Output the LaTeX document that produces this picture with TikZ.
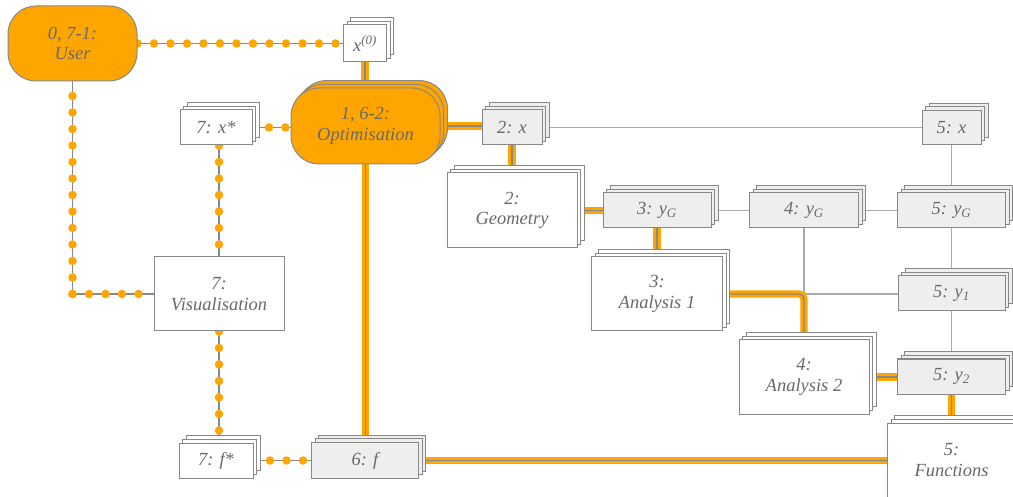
\documentclass[tikz,border=0pt]{standalone}
\usepackage{fontspec}
\setmainfont{Liberation Serif}
\usetikzlibrary{shadows,backgrounds}
\definecolor{procorange}{RGB}{255,165,0}
\definecolor{edgegray}{RGB}{136,136,136}
\definecolor{datagray}{RGB}{170,170,170}
\definecolor{textgray}{RGB}{105,105,105}
\definecolor{varfill}{RGB}{238,238,238}
\tikzset{
  base/.style={draw=edgegray, line width=1pt, inner sep=0pt, align=center, text=textgray,
    font=\fontsize{18.5}{20.5}\selectfont\itshape},
  stack/.style={
    copy shadow={shadow xshift=7.4pt, shadow yshift=7.4pt, fill=#1, draw=edgegray, line width=1pt},
    copy shadow={shadow xshift=3.7pt, shadow yshift=3.7pt, fill=#1, draw=edgegray, line width=1pt},
    fill=#1},
  driver/.style={base, fill=procorange, rounded corners=28pt},
  tool/.style={base, fill=white},
  tools/.style={base, stack=white},
  vars/.style={base, stack=varfill},
  varw/.style={base, stack=white},
  optim/.style={driver, stack=procorange},
  datalink/.style={draw=datagray, line width=1.3pt},
  proclink/.style={draw=procorange, double=edgegray, double distance=1.4pt, line width=3pt},
  userlink/.style={draw=procorange, line width=8.5pt, line cap=round, dash pattern=on 0pt off 16.5pt,
    preaction={draw=edgegray, solid, line cap=butt, line width=1.2pt}},
}
\begin{document}
\begin{tikzpicture}[x=1pt,y=-1pt]
\useasboundingbox (0,0) rectangle (1013,497);

% user, optimiser and post-processing
\node[driver, minimum width=129pt, minimum height=75pt] (user) at (72.5,43.5) {0, 7-1:\\User};
\node[varw, minimum width=43pt, minimum height=37pt] (x0) at (365,43.5) {x\textsuperscript{(0)}};
\node[optim, minimum width=149pt, minimum height=76pt] (opt) at (365.5,126) {1, 6-2:\\Optimisation};
\node[varw, minimum width=72pt, minimum height=35pt] (xstar) at (216,127.5) {7: x*};
\node[tool, minimum width=130pt, minimum height=74pt] (vis) at (219,294) {7:\\Visualisation};
\node[varw, minimum width=74pt, minimum height=35pt] (fstar) at (216,460.5) {7: f*};
\node[vars, minimum width=107pt, minimum height=36pt] (f6) at (365,460.5) {6: f};

% geometry and analyses
\node[vars, minimum width=60pt, minimum height=35pt] (x2) at (512,127.5) {2: x};
\node[tools, minimum width=130pt, minimum height=75pt] (geom) at (512,210.5) {2:\\Geometry};
\node[vars, minimum width=108pt, minimum height=35pt] (y3) at (657,210.5) {3: y\textsubscript{G}};
\node[vars, minimum width=109pt, minimum height=35pt] (y4) at (804,210.5) {4: y\textsubscript{G}};
\node[vars, minimum width=108pt, minimum height=35pt] (y5G) at (951.5,210.5) {5: y\textsubscript{G}};
\node[vars, minimum width=59pt, minimum height=34pt] (x5) at (951.5,127.5) {5: x};
\node[tools, minimum width=131pt, minimum height=74pt] (an1) at (657,294) {3:\\Analysis 1};
\node[tools, minimum width=130pt, minimum height=74pt] (an2) at (804,377) {4:\\Analysis 2};
\node[vars, minimum width=107pt, minimum height=35pt] (y51) at (951.5,293.5) {5: y\textsubscript{1}};
\node[vars, minimum width=108pt, minimum height=35pt] (y52) at (951.5,376.5) {5: y\textsubscript{2}};
\node[tools, minimum width=128pt, minimum height=74pt] (func) at (951.5,460) {5:\\Functions};

\coordinate (uc) at (user.south |- vis.west);

\begin{scope}[on background layer]
  % data connections
  \draw[datalink] (x2.east) -- (x5.west);
  \draw[datalink] (y3.east) -- (y4.west);
  \draw[datalink] (y4.east) -- (y5G.west);
  \draw[datalink] (x5.south) -- (y5G.north);
  \draw[datalink] (y4.south) -- (an2.north);
  \draw[datalink] (an1.east) -- (an1.east -| y51.west);
  \draw[datalink] (y5G.south) -- (y51.north);
  \draw[datalink] (y51.south) -- (y52.north);
  % process flow
  \draw[proclink] (x0.south) -- (x0.south |- opt.north);
  \draw[proclink] (opt.south) -- (opt.south |- f6.north);
  \draw[proclink] (opt.east) -- (opt.east -| x2.west);
  \draw[proclink] (x2.south) -- (x2.south |- geom.north);
  \draw[proclink] (geom.east) -- (geom.east -| y3.west);
  \draw[proclink] (y3.south) -- (y3.south |- an1.north);
  \draw[proclink, rounded corners=5pt] (an1.east) -| (an2.north);
  \draw[proclink] (an2.east) -- (an2.east -| y52.west);
  \draw[proclink] (y52.south) -- (y52.south |- func.north);
  \draw[proclink] (f6.east) -- (f6.east -| func.west);
  % user interaction
  \draw[userlink] (user.east) -- (x0.west);
  \draw[userlink] (uc) -- (user.south);
  \draw[userlink] (uc) -- (vis.west);
  \draw[userlink] (xstar.east) -- (xstar.east -| opt.west);
  \draw[userlink] (vis.north |- xstar.south) -- (vis.north);
  \draw[userlink] (vis.south) -- (vis.south |- fstar.north);
  \draw[userlink] (fstar.east) -- (fstar.east -| f6.west);
\end{scope}
\end{tikzpicture}
\end{document}
